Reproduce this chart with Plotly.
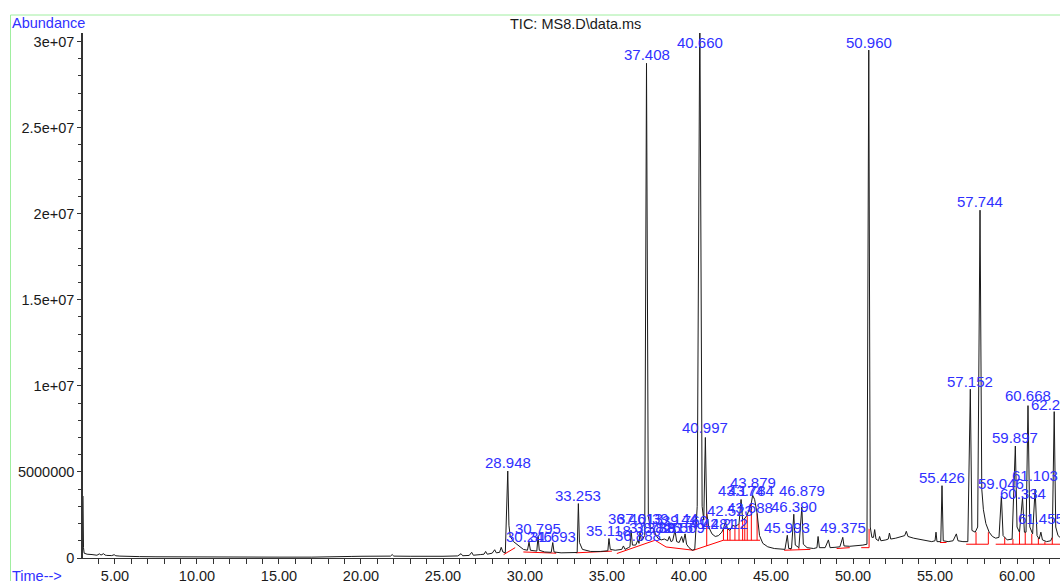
import plotly.graph_objects as go

# ---------------- data ----------------
# TIC profile: (retention time [min], abundance [millions of counts])
tic_profile = [
    (3.05, 3.6), (3.06, 2.0), (3.08, 0.6), (3.12, 0.28), (3.3, 0.22), (3.6, 0.2), (3.9, 0.16),
    (4.05, 0.24), (4.15, 0.17), (4.3, 0.25), (4.4, 0.17), (4.5, 0.15), (4.8, 0.14), (4.95, 0.19),
    (5.05, 0.13), (5.3, 0.11), (5.8, 0.09), (6.5, 0.08), (7.5, 0.07), (9.0, 0.06), (11.0, 0.05),
    (13.0, 0.05), (15.0, 0.05), (17.0, 0.05), (19.0, 0.05), (19.4, 0.09), (20.0, 0.1), (21.0, 0.1),
    (21.8, 0.11), (21.9, 0.2), (22.0, 0.11), (23.0, 0.1), (24.0, 0.09), (25.0, 0.1), (25.9, 0.12),
    (26.1, 0.25), (26.2, 0.13), (26.6, 0.15), (26.75, 0.33), (26.85, 0.16), (27.3, 0.2), (27.5, 0.22),
    (27.6, 0.38), (27.7, 0.22), (28.0, 0.28), (28.15, 0.48), (28.25, 0.3), (28.45, 0.33), (28.55, 0.62),
    (28.65, 0.35), (28.8, 0.3), (28.948, 5.05), (29.02, 1.9), (29.1, 1.25), (29.3, 0.95), (29.6, 0.7),
    (29.9, 0.5), (30.15, 0.45), (30.246, 0.92), (30.33, 0.45), (30.6, 0.42), (30.72, 0.4), (30.795, 1.25),
    (30.87, 0.45), (31.2, 0.35), (31.6, 0.33), (31.693, 0.9), (31.77, 0.35), (32.2, 0.3), (32.8, 0.3),
    (33.18, 0.32), (33.253, 3.16), (33.32, 0.9), (33.5, 0.5), (34.0, 0.38), (34.6, 0.38), (35.05, 0.42),
    (35.118, 1.13), (35.2, 0.5), (35.5, 0.45), (35.9, 0.5), (36.0, 0.7), (36.1, 0.5), (36.3, 0.6),
    (36.4, 0.65), (36.47, 1.6), (36.55, 0.75), (36.75, 0.75), (36.888, 1.05), (36.95, 0.85),
    (37.013, 1.45), (37.1, 1.0), (37.3, 1.3), (37.408, 28.73), (37.52, 2.4), (37.65, 1.7), (37.8, 1.75),
    (37.95, 1.4), (38.1, 1.15), (38.3, 1.05), (38.5, 1.1), (38.7, 1.0), (38.8, 1.25), (38.9, 0.95),
    (39.0, 1.0), (39.144, 1.6), (39.25, 0.95), (39.4, 0.9), (39.55, 1.25), (39.65, 0.9), (39.76, 1.4),
    (39.85, 0.8), (40.0, 0.6), (40.2, 0.45), (40.35, 0.5), (40.5, 3.0), (40.66, 32.0), (40.8, 3.0),
    (40.9, 2.2), (40.997, 7.0), (41.08, 2.6), (41.2, 1.8), (41.4, 1.4), (41.6, 1.25), (41.8, 1.3),
    (42.0, 1.5), (42.1, 1.7), (42.212, 2.1), (42.35, 1.7), (42.5, 1.6), (42.65, 1.9), (42.8, 1.85),
    (42.95, 1.9), (43.05, 2.0), (43.174, 3.4), (43.27, 2.2), (43.4, 2.3), (43.55, 2.5), (43.688, 2.9),
    (43.8, 3.2), (43.879, 3.64), (44.0, 3.4), (44.15, 2.6), (44.3, 1.3), (44.5, 0.85), (44.8, 0.65),
    (45.2, 0.55), (45.6, 0.5), (45.85, 0.5), (45.993, 1.32), (46.08, 0.55), (46.25, 0.55), (46.39, 2.54),
    (46.48, 0.75), (46.7, 0.6), (46.879, 2.96), (46.97, 0.8), (47.2, 0.6), (47.6, 0.55), (47.8, 0.6),
    (47.87, 1.25), (47.95, 0.6), (48.3, 0.6), (48.5, 1.05), (48.6, 0.6), (48.9, 0.62), (49.2, 0.65),
    (49.375, 1.2), (49.45, 0.7), (49.8, 0.68), (50.2, 0.7), (50.6, 0.75), (50.85, 0.8), (50.96, 29.5),
    (51.05, 1.8), (51.15, 1.2), (51.25, 1.2), (51.32, 1.65), (51.4, 1.1), (51.55, 1.0), (51.62, 1.25),
    (51.7, 1.0), (52.0, 1.05), (52.15, 1.1), (52.22, 1.45), (52.3, 1.1), (52.6, 1.15), (52.9, 1.25),
    (53.15, 1.3), (53.25, 1.55), (53.35, 1.25), (53.7, 1.15), (54.0, 1.1), (54.4, 1.0), (54.8, 0.95),
    (55.0, 1.0), (55.06, 1.5), (55.12, 0.95), (55.35, 0.95), (55.426, 4.2), (55.5, 1.0), (55.8, 0.95),
    (56.1, 1.0), (56.3, 1.4), (56.4, 1.0), (56.7, 0.95), (57.0, 0.95), (57.152, 9.8), (57.25, 1.6),
    (57.45, 1.5), (57.6, 1.8), (57.744, 20.2), (57.85, 4.0), (57.95, 2.8), (58.1, 2.0), (58.3, 1.5),
    (58.5, 1.25), (58.7, 1.15), (58.9, 1.2), (59.046, 3.6), (59.15, 1.3), (59.4, 1.05), (59.7, 1.1),
    (59.897, 6.5), (60.0, 1.8), (60.15, 1.5), (60.334, 3.5), (60.45, 1.5), (60.55, 1.5), (60.668, 8.85),
    (60.78, 1.8), (60.95, 1.4), (61.103, 4.0), (61.22, 1.3), (61.35, 1.1), (61.455, 1.5), (61.55, 1.05),
    (61.8, 0.95), (62.05, 1.0), (62.15, 1.2), (62.267, 8.5), (62.36, 1.8), (62.5, 1.3), (62.62, 1.2),
]

# Integration baselines (red): polylines, each a list of (time, abundance in millions)
integration_lines = [
    [(28.7, 0.2), (29.4, 0.6)],
    [(29.9, 0.35), (31.9, 0.28)],
    [(33.1, 0.3), (35.3, 0.4)],
    [(35.6, 0.26), (37.93, 1.03), (38.6, 0.64), (40.27, 0.45), (42.09, 1.03), (44.33, 1.03)],
    [(45.8, 0.45), (47.4, 0.5)],
    [(49.0, 0.55), (49.8, 0.6)],
    [(50.5, 0.6), (50.98, 0.6), (50.98, 1.7)],
    [(55.3, 0.9), (55.7, 0.9)],
    [(56.9, 0.8), (58.25, 0.8)],
    [(58.7, 0.8), (62.62, 0.8)],
]
# Peak split (drop) lines: (time, bottom, top) in millions
drop_lines = [
    (41.08, 0.7, 2.6), (42.1, 1.03, 1.7), (42.35, 1.03, 1.7), (42.5, 1.03, 1.6), (42.8, 1.03, 1.85),
    (43.05, 1.03, 2.0), (43.27, 1.03, 2.2), (43.4, 1.03, 2.3), (43.55, 1.03, 2.5), (43.8, 1.03, 3.2),
    (44.15, 1.03, 2.6), (46.2, 0.47, 0.55), (46.7, 0.49, 0.6), (31.85, 0.28, 0.34),
    (57.5, 0.8, 1.5), (58.25, 0.8, 1.5), (59.25, 0.8, 1.2), (59.75, 0.8, 1.1), (60.15, 0.8, 1.5),
    (60.5, 0.8, 1.5), (60.9, 0.8, 1.4), (61.3, 0.8, 1.15), (61.7, 0.8, 0.95), (62.15, 0.8, 1.2),
]

# Peak labels: text, retention time, label height (millions)
peak_labels = ["28.948", "30.246", "31.693", "30.795", "33.253", "35.118", "36.461", "37.013",
               "36.888", "37.738", "38.125", "38.815", "39.144", "39.569", "39.760", "37.408",
               "40.660", "40.997", "41.481", "42.212", "42.523", "43.174", "43.784", "43.879",
               "43.688", "45.993", "46.390", "46.879", "49.375", "50.960", "55.426", "57.152",
               "57.744", "59.046", "59.897", "60.334", "60.668", "61.103", "61.455", "62.267"]
peak_times = [28.948, 30.246, 31.693, 30.795, 33.253, 35.118, 36.461, 37.013,
              36.888, 37.738, 38.125, 38.815, 39.144, 39.569, 39.760, 37.408,
              40.660, 40.997, 41.481, 42.212, 42.523, 43.174, 43.784, 43.879,
              43.688, 45.993, 46.390, 46.879, 49.375, 50.960, 55.426, 57.152,
              57.744, 59.046, 59.897, 60.334, 60.668, 61.103, 61.455, 62.267]
label_heights = [5.57, 1.25, 1.25, 1.7, 3.64, 1.6, 2.3, 2.3,
                 1.32, 1.75, 1.75, 1.8, 2.3, 1.75, 2.2, 29.25,
                 29.95, 7.59, 2.0, 2.0, 2.77, 3.93, 3.93, 4.36,
                 2.96, 1.8, 3.02, 3.93, 1.8, 29.95, 4.67, 10.26,
                 20.71, 4.34, 7.0, 3.73, 9.45, 4.8, 2.3, 8.94]

x_tick_vals = [5, 10, 15, 20, 25, 30, 35, 40, 45, 50, 55, 60]
x_tick_text = ["5.00", "10.00", "15.00", "20.00", "25.00", "30.00", "35.00", "40.00",
               "45.00", "50.00", "55.00", "60.00"]
y_tick_vals = [0, 5e6, 1e7, 1.5e7, 2e7, 2.5e7, 3e7]
y_tick_text = ["0", "5000000", "1e+07", "1.5e+07", "2e+07", "2.5e+07", "3e+07"]

MILLION = 1e6

# ---------------- figure ----------------
FONT = "Liberation Sans, Arial, sans-serif"
BLUE = "#3030ff"

t_vals = [p[0] for p in tic_profile]
a_vals = [p[1] * MILLION for p in tic_profile]

bx, by = [], []
for line in integration_lines:
    for t, a in line:
        bx.append(t)
        by.append(a * MILLION)
    bx.append(None)
    by.append(None)
for t, lo, hi in drop_lines:
    bx += [t, t, None]
    by += [lo * MILLION, hi * MILLION, None]

fig = go.Figure()
fig.add_trace(go.Scatter(x=bx, y=by, mode="lines", line=dict(color="#ff0000", width=1),
                         hoverinfo="skip", showlegend=False))
fig.add_trace(go.Scatter(x=t_vals, y=a_vals, mode="lines", line=dict(color="#1a1a1a", width=1),
                         showlegend=False))

for txt, t, h in zip(peak_labels, peak_times, label_heights):
    fig.add_annotation(x=t, y=h * MILLION, text=txt, showarrow=False, xanchor="center",
                       yanchor="middle", font=dict(family=FONT, size=15, color=BLUE))

L, T, B = 83, 33, 23
W, H = 1060, 581
pw, ph = W - L, H - T - B


def px_x(px):
    return (px - L) / pw


def px_y(py):
    return (H - B - py) / ph


fig.add_annotation(xref="paper", yref="paper", x=px_x(10), y=px_y(23), text="Abundance",
                   showarrow=False, xanchor="left", yanchor="middle",
                   font=dict(family=FONT, size=14.5, color=BLUE))
fig.add_annotation(xref="paper", yref="paper", x=px_x(575), y=px_y(24), text="TIC: MS8.D\\data.ms",
                   showarrow=False, xanchor="center", yanchor="middle",
                   font=dict(family=FONT, size=14.5, color="#1a1a1a"))
fig.add_annotation(xref="paper", yref="paper", x=px_x(10), y=px_y(576), text="Time-->",
                   showarrow=False, xanchor="left", yanchor="middle",
                   font=dict(family=FONT, size=14.5, color=BLUE))

# light green frame
fig.add_shape(type="line", xref="paper", yref="paper", x0=px_x(10.5), x1=px_x(10.5),
              y0=px_y(15), y1=px_y(600), line=dict(color="#a0eea0", width=1))
fig.add_shape(type="line", xref="paper", yref="paper", x0=px_x(10.5), x1=px_x(1080),
              y0=px_y(15), y1=px_y(15), line=dict(color="#a0eea0", width=1))

fig.update_layout(
    width=W, height=H,
    margin=dict(l=L, r=0, t=T, b=B, pad=0),
    paper_bgcolor="white", plot_bgcolor="white",
    font=dict(family=FONT, size=14.5, color="#1a1a1a"),
    showlegend=False,
    xaxis=dict(range=[3.05, 62.62], tickvals=x_tick_vals, ticktext=x_tick_text,
               ticks="outside", ticklen=5, tickcolor="#333", tickwidth=1,
               minor=dict(dtick=1, tick0=0, ticklen=5, tickcolor="#333", ticks="outside"),
               showline=True, linecolor="#333", linewidth=1, showgrid=False, zeroline=False,
               automargin=False,
               tickfont=dict(family=FONT, size=14.5, color="#1a1a1a")),
    yaxis=dict(range=[0, 3.049e7], tickvals=y_tick_vals, ticktext=y_tick_text,
               ticks="outside", ticklen=4, tickcolor="#333", tickwidth=1,
               minor=dict(dtick=1e6, tick0=0, ticklen=3, tickcolor="#333", ticks="outside"),
               showline=True, linecolor="#333", linewidth=1.5, showgrid=False, zeroline=False,
               automargin=False,
               tickfont=dict(family=FONT, size=14.5, color="#1a1a1a")),
)

fig.write_html(
    "out.html",
    config={"displayModeBar": False},
    post_script="document.body.style.margin='0';document.body.style.overflow='hidden';",
)
